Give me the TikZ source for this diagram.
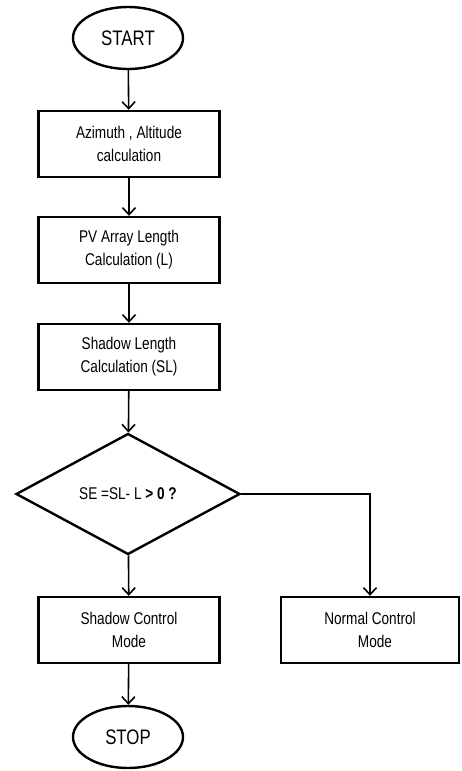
\documentclass[tikz,border=0pt]{standalone}
\usepackage{fontspec}
\setmainfont{Liberation Sans}[FakeStretch=0.8]
\usetikzlibrary{shapes.geometric,arrows.meta}

\begin{document}
\begin{tikzpicture}[x=1pt,y=-1pt,
        box/.style={draw,line width=2.4pt,minimum width=181pt,minimum height=66pt,inner sep=0pt,align=center,font=\fontsize{17}{23}\selectfont},
        term/.style={draw,ellipse,line width=2.4pt,minimum width=110pt,minimum height=62pt,inner sep=0pt,font=\fontsize{21}{25}\selectfont},
        decide/.style={draw,diamond,line width=2.4pt,minimum width=224pt,minimum height=121pt,inner sep=0pt,font=\fontsize{17}{23}\selectfont},
        flow/.style={line width=1.6pt,-{Straight Barb[length=7pt,width=13pt,line width=1.6pt]}}]
    \useasboundingbox (0,0) rectangle (461,771);
    \node[term] (start) at (128,38) {START};
    \node[box] (azalt) at (129,144) {Azimuth , Altitude\\calculation};
    \node[box] (pvlen) at (129,250) {PV Array Length\\Calculation (L)};
    \node[box] (shlen) at (129,357) {Shadow Length\\Calculation (SL)};
    \node[decide] (check) at (128,494) {SE =SL- L \textbf{> 0 ?}};
    \node[box] (shmode) at (129,630) {Shadow Control\\Mode};
    \node[box,minimum width=178pt] (nrmode) at (370,630) {Normal Control\\\hspace*{10pt}Mode};
    \node[term] (stop) at (128,737) {STOP};
    \draw[flow] (start) -- (azalt);
    \draw[flow] (azalt) -- (pvlen);
    \draw[flow] (pvlen) -- (shlen);
    \draw[flow] (shlen) -- (check);
    \draw[flow] (check) -- (shmode);
    \draw[flow] (check.east) -| (nrmode.north);
    \draw[flow] (shmode) -- (stop);
\end{tikzpicture}
\end{document}
